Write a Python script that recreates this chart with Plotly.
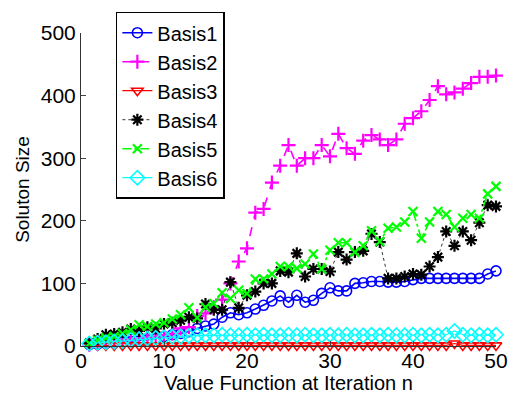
import plotly.graph_objects as go

iterations = list(range(1, 51))

basis1 = [2, 3, 4, 5, 6, 7, 8, 10, 12, 15, 18, 20, 23, 28, 32, 35, 46, 53, 50, 53,
          59, 65, 72, 80, 70, 81, 70, 73, 84, 93, 88, 88, 100, 101, 103, 103, 102, 102, 103, 106,
          108, 108, 108, 108, 108, 108, 108, 108, 115, 120]
basis2 = [2, 3, 5, 7, 9, 11, 12, 14, 15, 17, 20, 28, 30, 48, 52, 62, 74, 100, 135, 156,
          213, 219, 261, 288, 321, 288, 300, 300, 321, 303, 339, 316, 307, 328, 337, 330, 321, 330, 355, 364,
          375, 393, 415, 402, 405, 411, 420, 430, 430, 432]
basis3 = [1, 1, 1, 1, 1, 1, 1, 1, 1, 1, 1, 1, 1, 1, 1, 1, 1, 1, 1, 1,
          1, 1, 1, 1, 1, 1, 1, 1, 1, 1, 1, 1, 1, 1, 1, 1, 1, 1, 1, 1,
          1, 1, 1, 1, 4, 1, 1, 1, 1, 1]
basis4 = [5, 11, 18, 19, 22, 27, 24, 30, 28, 35, 37, 41, 46, 44, 67, 58, 58, 102, 61, 81,
          87, 100, 100, 120, 118, 148, 111, 123, 123, 119, 150, 138, 150, 152, 179, 166, 108, 108, 111, 115,
          114, 127, 142, 183, 160, 183, 169, 197, 225, 223]
basis5 = [4, 9, 13, 15, 20, 26, 34, 31, 35, 37, 43, 50, 61, 45, 62, 68, 85, 76, 89, 84,
          107, 107, 115, 127, 127, 124, 131, 147, 123, 153, 165, 165, 150, 160, 184, 167, 188, 190, 198, 215,
          172, 198, 215, 210, 190, 204, 210, 204, 243, 255]
basis6 = [4, 5, 6, 7, 8, 10, 11, 12, 13, 14, 15, 15, 16, 17, 17, 17, 18, 17, 17, 18,
          17, 18, 17, 17, 18, 17, 18, 17, 17, 18, 17, 18, 17, 17, 18, 17, 18, 17, 17, 18,
          17, 18, 17, 18, 24, 18, 17, 18, 17, 18]

x_ticks = [0, 10, 20, 30, 40, 50]
y_ticks = [0, 100, 200, 300, 400, 500]

FONT = "Liberation Sans, Arial, sans-serif"

# name, values, colour, dash, marker symbol, marker size, marker line width, line width
series = [
    ("Basis1", basis1, "#0000FF", "solid", "circle-open", 10, 1.6, 1.6),
    ("Basis2", basis2, "#FF00FF", "dash", "cross-thin-open", 10, 2.2, 1.6),
    ("Basis3", basis3, "#FF0000", "solid", "triangle-down-open", 10, 1.6, 1.2),
    ("Basis4", basis4, "#000000", "dot", "asterisk-open", 10, 2.2, 0.8),
    ("Basis5", basis5, "#00FF00", "dashdot", "x-thin-open", 9, 2.2, 1.6),
    ("Basis6", basis6, "#00FFFF", "solid", "diamond-open", 11, 1.6, 1.2),
]

fig = go.Figure()
for name, vals, color, dash, symbol, msize, mwidth, lwidth in series:
    fig.add_trace(go.Scatter(
        x=iterations, y=vals, name=name, mode="lines+markers",
        line=dict(color=color, dash=dash, width=lwidth),
        marker=dict(symbol=symbol, size=msize, color=color,
                    line=dict(color=color, width=mwidth)),
        cliponaxis=False,
    ))

fig.update_layout(
    width=515, height=396,
    margin=dict(l=81, r=19, t=24, b=50),
    paper_bgcolor="white", plot_bgcolor="white",
    font=dict(family=FONT, size=21, color="black"),
    showlegend=True,
    legend=dict(
        x=0.084, y=1.068, xanchor="left", yanchor="top",
        bgcolor="white", bordercolor="black", borderwidth=1.5,
        font=dict(family=FONT, size=20),
        itemwidth=30, tracegroupgap=0,
    ),
    xaxis=dict(
        range=[0, 50], tickvals=x_ticks, ticks="inside", ticklen=5,
        showline=True, linecolor="#333", linewidth=1, mirror=False,
        showgrid=False, zeroline=False, automargin=False,
        ticklabelstandoff=-4,
        title=dict(text="Value Function at Iteration n", standoff=0,
                   font=dict(size=20)),
        tickfont=dict(size=21),
    ),
    yaxis=dict(
        range=[0, 500], tickvals=y_ticks, ticks="inside", ticklen=5,
        showline=True, linecolor="#333", linewidth=1, mirror=False,
        showgrid=False, zeroline=False, automargin=False,
        title=dict(text="Soluton Size", standoff=6, font=dict(size=19)),
        tickfont=dict(size=21),
    ),
)

fig.write_html("out.html")
